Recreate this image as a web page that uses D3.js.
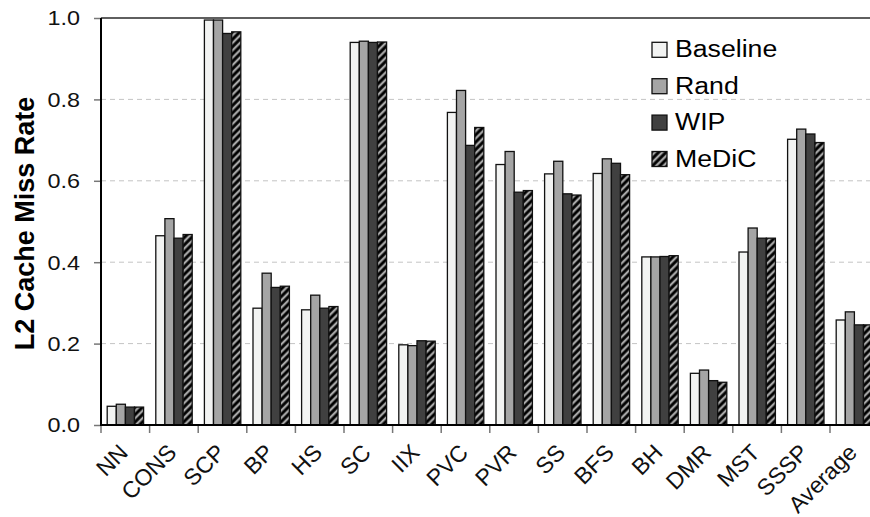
<!DOCTYPE html>
<html>
<head>
<meta charset="utf-8">
<script src="https://cdn.jsdelivr.net/npm/d3@7"></script>
<style>
  html, body { margin: 0; padding: 0; background: #fff; }
  svg { display: block; font-family: "Liberation Sans", Arial, Helvetica, sans-serif; }
</style>
</head>
<body>
<svg id="chart" width="870" height="517"></svg>
<script>
// ---- data ----
const categories = ["NN","CONS","SCP","BP","HS","SC","IIX","PVC","PVR","SS","BFS","BH","DMR","MST","SSSP","Average"];
const seriesNames = ["Baseline","Rand","WIP","MeDiC"];
const baseline = [0.046,0.465,0.995,0.287,0.283,0.940,0.197,0.768,0.640,0.617,0.618,0.413,0.127,0.425,0.702,0.258];
const rand     = [0.051,0.507,0.995,0.373,0.319,0.943,0.195,0.822,0.672,0.648,0.654,0.413,0.135,0.484,0.727,0.278];
const wip      = [0.044,0.459,0.962,0.338,0.287,0.940,0.207,0.687,0.572,0.568,0.643,0.414,0.109,0.459,0.715,0.246];
const medic    = [0.044,0.468,0.966,0.341,0.291,0.941,0.206,0.731,0.576,0.565,0.615,0.416,0.105,0.459,0.694,0.246];
const yTicks = [0.0,0.2,0.4,0.6,0.8,1.0];
const seriesValues = [baseline, rand, wip, medic];

(function () {
const svg = d3.select("#chart");

// hatch pattern
const defs = svg.append("defs");
const pat = defs.append("pattern").attr("id","hatch")
  .attr("patternUnits","userSpaceOnUse").attr("width",5.2).attr("height",10)
  .attr("patternTransform","rotate(45)");
pat.append("rect").attr("width",5.2).attr("height",10).attr("fill","#000");
pat.append("rect").attr("x",1.5).attr("width",2.3).attr("height",10).attr("fill","#a8a8a8");

const fills = ["#f2f3f2","#a5a5a5","#404040","url(#hatch)"];

const pLeft = 101, pTop = 18, pBottom = 425, pRight = 878.6;
const x0 = d3.scaleBand().domain(categories).range([pLeft, pRight]).padding(0);
const x1 = d3.scaleBand().domain(seriesNames).range([6.2, 6.2 + 36.4]).padding(0);
const y = d3.scaleLinear().domain([0,1]).range([pBottom, pTop]);

// gridlines
svg.append("g").selectAll("line").data(yTicks.filter(t => t > 0 && t < 1)).join("line")
  .attr("x1", pLeft).attr("x2", 870).attr("y1", d => y(d)).attr("y2", d => y(d))
  .attr("stroke","#c4c4c4").attr("stroke-width",1).attr("stroke-dasharray","5,4");

// top frame line
svg.append("line").attr("x1", pLeft).attr("x2", 870).attr("y1", y(1)).attr("y2", y(1))
  .attr("stroke","#2a2a2a").attr("stroke-width",1.6);

// bars
const groups = svg.append("g").selectAll("g").data(categories).join("g")
  .attr("transform", d => `translate(${x0(d)},0)`);
groups.selectAll("rect").data((c, i) => seriesNames.map((s, j) => ({s, j, v: seriesValues[j][i]})))
  .join("rect")
  .attr("x", d => x1(d.s)).attr("width", x1.bandwidth())
  .attr("y", d => y(d.v)).attr("height", d => y(0) - y(d.v))
  .attr("fill", d => fills[d.j]).attr("stroke","#111").attr("stroke-width",1.3);

// y axis
const yAxis = d3.axisLeft(y).tickValues(yTicks).tickSize(7).tickFormat(d3.format(".1f"));
const ya = svg.append("g").attr("transform", `translate(${pLeft},0)`).call(yAxis);
ya.select(".domain").remove();
ya.selectAll(".tick line").attr("stroke","#777").attr("stroke-width",1.5);
ya.selectAll(".tick text").remove();
ya.selectAll(".tick").append("text")
  .attr("transform","translate(-21,0) scale(1.2,1)")
  .attr("text-anchor","end").attr("dy","0.35em")
  .attr("fill","#111").style("font-size","19.5px")
  .text(d => d3.format(".1f")(d));

// x axis ticks at band boundaries
const xa = svg.append("g").attr("transform", `translate(0,${pBottom})`);
xa.selectAll("line").data(categories).join("line")
  .attr("x1", d => x0(d)).attr("x2", d => x0(d)).attr("y1", 0).attr("y2", 8)
  .attr("stroke","#777").attr("stroke-width",1.5);
xa.selectAll("text").data(categories).join("text")
  .attr("transform", d => `translate(${x0(d) + x0.bandwidth()/2 + 4},${454 - pBottom}) rotate(-45)`)
  .attr("text-anchor","end").attr("fill","#111").style("font-size","23px")
  .text(d => d);

// axis lines
svg.append("line").attr("x1", pLeft).attr("x2", pLeft).attr("y1", pTop).attr("y2", pBottom + 1)
  .attr("stroke","#000").attr("stroke-width",2);
svg.append("line").attr("x1", pLeft - 1).attr("x2", 870).attr("y1", pBottom).attr("y2", pBottom)
  .attr("stroke","#000").attr("stroke-width",2);

// y label
svg.append("text").attr("transform", `translate(34,${(97+350)/2}) rotate(-90)`)
  .attr("text-anchor","middle").attr("font-weight","bold").style("font-size","27px")
  .attr("fill","#000").text("L2 Cache Miss Rate");

// legend
const leg = svg.append("g").selectAll("g").data(seriesNames).join("g")
  .attr("transform", (d, i) => `translate(652,${42.3 + i*36.4})`);
leg.append("rect").attr("width",15).attr("height",15)
  .attr("fill", (d, i) => fills[i]).attr("stroke","#111").attr("stroke-width",1.3);
leg.append("text").attr("transform","translate(23,15) scale(1.16,1)")
  .attr("fill","#000").style("font-size","23px").text(d => d);
})();
</script>
</body>
</html>
